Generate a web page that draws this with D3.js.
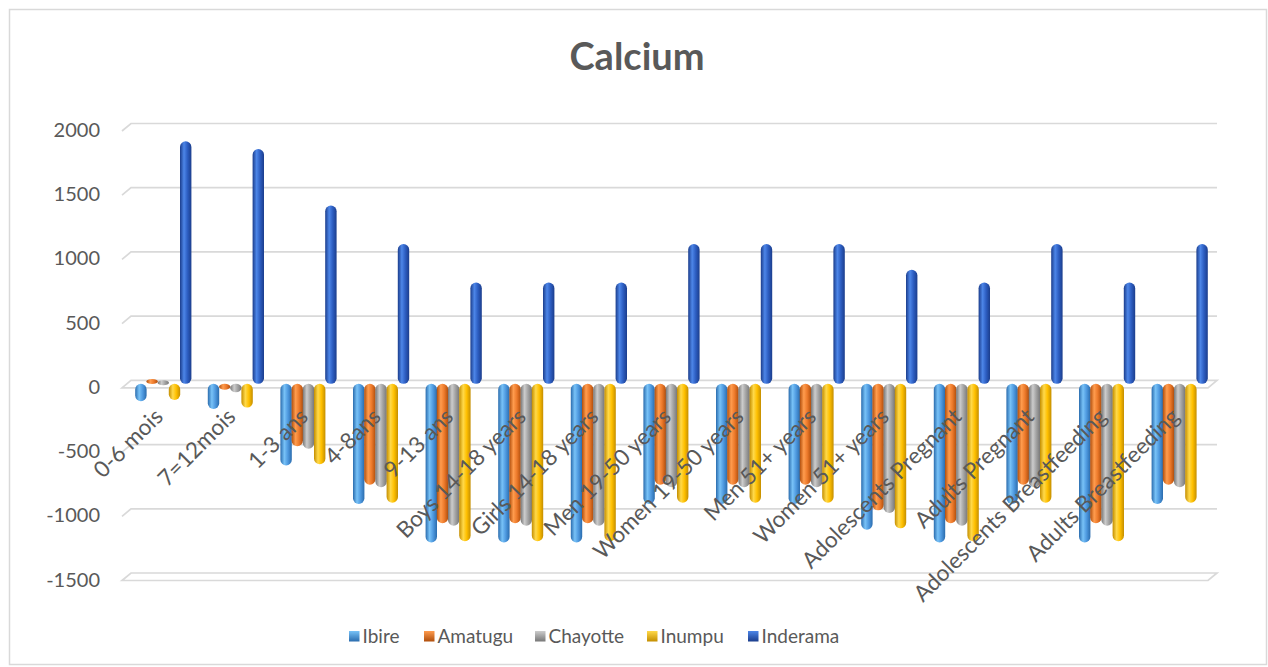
<!DOCTYPE html>
<html>
<head>
<meta charset="utf-8">
<script src="https://cdn.jsdelivr.net/npm/d3@7"></script>
<style>
  html, body { margin: 0; padding: 0; background: #fff; }
  svg { display: block; }
</style>
</head>
<body>
<svg id="chart" width="1268" height="667"></svg>
<script>
// Calcium balance per age / life-stage group (mg/day) for each food
const categories = [
  "0-6 mois", "7=12mois", "1-3 ans", "4-8ans", "9-13 ans",
  "Boys 14-18 years", "Girls 14-18 years", "Men 19-50 years", "Women 19-50 years",
  "Men 51+ years", "Women 51+ years", "Adolescents Pregnant", "Adults Pregnant",
  "Adolescents Breastfeeding", "Adults Breastfeeding"
];
const seriesNames = ["Ibire", "Amatugu", "Chayotte", "Inumpu", "Inderama"];
const ibire    = [-100, -160, -600, -900, -1200, -1200, -1200, -900, -900, -900, -1100, -1200, -900, -1200, -900];
const amatugu  = [50, -10, -450, -750, -1050, -1050, -1050, -750, -750, -750, -950, -1050, -750, -1050, -750];
const chayotte = [30, -30, -470, -770, -1070, -1070, -1070, -770, -770, -770, -970, -1070, -770, -1070, -770];
const inumpu   = [-90, -150, -590, -890, -1190, -1190, -1190, -890, -890, -890, -1090, -1190, -890, -1190, -890];
const inderama = [1900, 1840, 1400, 1100, 800, 800, 800, 1100, 1100, 1100, 900, 800, 1100, 800, 1100];
const yTicks = [-1500, -1000, -500, 0, 500, 1000, 1500, 2000];

const seriesValues = [ibire, amatugu, chayotte, inumpu, inderama];
const palette = {
  Ibire:    { edge: "#2a6cae", mid: "#4f9ae0", hi: "#78c2f7" },
  Amatugu:  { edge: "#b04e0c", mid: "#ed7a2b", hi: "#ff9c4e" },
  Chayotte: { edge: "#777777", mid: "#a3a3a3", hi: "#cccccc" },
  Inumpu:   { edge: "#c48e00", mid: "#ffc000", hi: "#ffd94a" },
  Inderama: { edge: "#1b3d8c", mid: "#2d5ec2", hi: "#4d86e8" }
};

const svg = d3.select("#chart");
const textColor = "#595959";
const gridColor = "#d9d9d9";
const font = "Lato, 'Liberation Sans', sans-serif";

// outer chart frame
svg.append("rect")
  .attr("x", 9.5).attr("y", 9.5).attr("width", 1257).attr("height", 655)
  .attr("fill", "#fff").attr("stroke", gridColor).attr("stroke-width", 1.5);

// gradients for cylinders and legend keys
const defs = svg.append("defs");
seriesNames.forEach((name, i) => {
  const c = palette[name];
  const g = defs.append("linearGradient").attr("id", "cyl" + i)
    .attr("x1", "0%").attr("x2", "100%").attr("y1", "0%").attr("y2", "0%");
  g.append("stop").attr("offset", "0%").attr("stop-color", c.edge);
  g.append("stop").attr("offset", "35%").attr("stop-color", c.hi);
  g.append("stop").attr("offset", "65%").attr("stop-color", c.mid);
  g.append("stop").attr("offset", "100%").attr("stop-color", c.edge);
  const k = defs.append("linearGradient").attr("id", "key" + i)
    .attr("x1", "0%").attr("x2", "0%").attr("y1", "0%").attr("y2", "100%");
  k.append("stop").attr("offset", "0%").attr("stop-color", c.hi);
  k.append("stop").attr("offset", "100%").attr("stop-color", c.edge);
});

// scales
const x = d3.scaleBand().domain(categories).range([127, 1216]).paddingInner(0).paddingOuter(0);
const xs = d3.scaleBand().domain(seriesNames).range([8.3, x.bandwidth() - 8.3]).padding(0);
const y = d3.scaleLinear().domain([-1500, 2000]).range([579.5, 130]);

// 3D wall offsets
const backDx = 9, backDy = -6.5, frontDy = 1;
const left = 122, right = 1208;

const grid = svg.append("g").attr("fill", "none").attr("stroke", gridColor).attr("stroke-width", 1.7);
yTicks.forEach(v => {
  const yv = y(v);
  if (v === 0 || v === -1500) {
    grid.append("path").attr("d",
      `M${left},${yv + frontDy}L${left + backDx},${yv + backDy}L${right + backDx},${yv + backDy}L${right},${yv + frontDy}Z`);
  } else {
    grid.append("path").attr("d",
      `M${left},${yv + frontDy}L${left + backDx},${yv + backDy}L${right + backDx},${yv + backDy}`);
  }
});

// y-axis tick labels
svg.append("g")
  .selectAll("text").data(yTicks).join("text")
  .attr("x", 100).attr("y", d => y(d)).attr("dy", "0.35em")
  .attr("text-anchor", "end")
  .attr("font-family", font).attr("font-size", 20).attr("fill", textColor)
  .text(d => d);

// cylinders (rounded ends reach slightly past the value)
const barW = 11.4;
const capExtra = 1.5;
const bars = svg.append("g");
categories.forEach((cat, ci) => {
  seriesNames.forEach((name, si) => {
    const v = seriesValues[si][ci];
    const x0 = x(cat) + xs(name) + (xs.bandwidth() - barW) / 2;
    const zeroY = y(0) - 3;
    const endY = v >= 0 ? y(v) - capExtra : y(v) + capExtra;
    let top = Math.min(zeroY, endY);
    let bot = Math.max(zeroY, endY);
    if (bot - top < 5) { const m = (top + bot) / 2; top = m - 2.5; bot = m + 2.5; }
    const h = bot - top;
    bars.append("rect")
      .attr("x", x0).attr("y", top).attr("width", barW).attr("height", h)
      .attr("rx", barW / 2).attr("ry", Math.min(barW / 2, h / 2))
      .attr("fill", `url(#cyl${si})`);
  });
});

// category labels, rotated
svg.append("g")
  .selectAll("text").data(categories).join("text")
  .attr("transform", d => `translate(${x(d) + x.bandwidth() / 2 + 1},418) rotate(-45)`)
  .attr("text-anchor", "end")
  .attr("font-family", font).attr("font-size", 22.5).attr("fill", textColor)
  .text(d => d);

// title
svg.append("text")
  .attr("x", 637).attr("y", 70).attr("text-anchor", "middle")
  .attr("font-family", font).attr("font-size", 38).attr("font-weight", "bold")
  .attr("fill", textColor).text("Calcium");

// legend
const legendX = [349, 424, 535, 647, 748];
const legend = svg.append("g");
seriesNames.forEach((name, i) => {
  legend.append("rect")
    .attr("x", legendX[i]).attr("y", 631).attr("width", 10.5).attr("height", 10.5)
    .attr("fill", `url(#key${i})`);
  legend.append("text")
    .attr("x", legendX[i] + 13.5).attr("y", 636).attr("dy", "0.35em")
    .attr("font-family", font).attr("font-size", 19).attr("fill", textColor)
    .text(name);
});
</script>
</body>
</html>
